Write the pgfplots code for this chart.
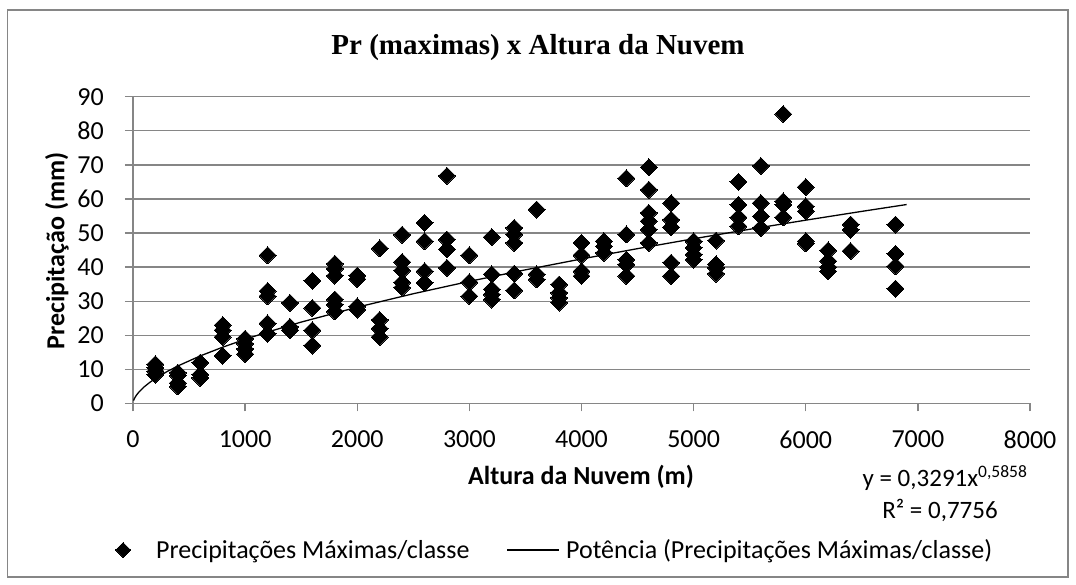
\documentclass[border=0pt]{standalone}
\usepackage{fontspec}
\setmainfont{Carlito}
\newfontfamily\titlefont{Liberation Serif}
\usepackage{pgfplots}
\usepackage{pgfplotstable}
\pgfplotsset{compat=1.18}
\definecolor{axgray}{RGB}{134,134,134}
\pgfplotsset{
  marklegend/.style={legend image code/.code={\path[draw=none, fill=none] (0pt,-1pt) rectangle (40pt,1pt);
    \draw[only marks, mark size=5.3pt, ##1] plot coordinates {(9pt,0pt)};}},
  linelegend/.style={legend image code/.code={\path[draw=none, fill=none] (0pt,-1pt) rectangle (57pt,1pt);
    \draw[##1] (0pt,0pt) -- (52pt,0pt);}}
}

\pgfplotstableread{
x y
200 11.5
200 10.5
200 9.5
200 8.5
400 9.0
400 8.2
400 6.0
400 5.0
600 12.0
600 8.5
600 7.5
800 23.0
800 21.5
800 19.5
800 14.0
1000 19.0
1000 17.5
1000 16.0
1000 14.5
1200 43.5
1200 33.0
1200 31.5
1200 23.5
1200 20.5
1400 29.5
1400 22.5
1400 21.5
1600 36.0
1600 28.0
1600 21.5
1600 17.0
1800 41.0
1800 39.5
1800 37.5
1800 30.5
1800 29.0
1800 27.0
2000 37.5
2000 36.5
2000 28.5
2000 27.5
2200 45.5
2200 24.5
2200 22.0
2200 19.5
2400 49.5
2400 41.5
2400 39.0
2400 35.5
2400 34.0
2600 53.0
2600 47.6
2600 38.8
2600 35.4
2800 66.8
2800 48.1
2800 45.2
2800 39.8
3000 43.5
3000 35.6
3000 31.5
3200 48.8
3200 37.9
3200 33.5
3200 32.0
3200 30.5
3400 51.5
3400 49.6
3400 47.1
3400 38.1
3400 33.2
3600 56.9
3600 37.9
3600 36.4
3800 34.9
3800 32.5
3800 31.0
3800 29.6
4000 47.1
4000 43.5
4000 38.8
4000 37.4
4200 47.6
4200 46.1
4200 44.2
4400 66.1
4400 49.6
4400 42.2
4400 40.8
4400 37.4
4600 69.3
4600 62.7
4600 55.9
4600 53.5
4600 51.0
4600 47.1
4800 58.8
4800 53.9
4800 51.7
4800 41.3
4800 37.4
5000 47.6
5000 45.7
5000 43.7
5000 42.2
5200 47.8
5200 40.8
5200 39.8
5200 38.1
5400 65.0
5400 58.3
5400 54.6
5400 52.0
5600 69.7
5600 58.8
5600 54.9
5600 51.5
5800 84.9
5800 59.3
5800 58.3
5800 54.6
6000 63.5
6000 57.8
6000 56.4
6000 47.6
6000 47.0
6200 44.9
6200 41.8
6200 40.0
6200 38.8
6400 52.5
6400 51.0
6400 44.7
6800 52.5
6800 43.9
6800 40.3
6800 33.7
}\datatable

\pgfplotstableread{
x y
5 0.85
10 1.27
20 1.90
30 2.41
50 3.26
100 4.89
150 6.20
200 7.33
300 9.30
400 11.01
600 13.96
800 16.52
1000 18.83
1200 20.95
1500 23.88
2000 28.25
2500 32.20
3000 35.83
3500 39.21
4000 42.40
4500 45.43
5000 48.33
5500 51.11
6000 53.78
6500 56.36
6900 58.37
}\trendtable

\begin{document}
\begin{tikzpicture}[x=1pt,y=1pt]
\path[use as bounding box] (0,0) rectangle (1076,585);
\draw[line width=1.5pt, axgray] (7.5,8) rectangle (1068,575);
\begin{axis}[
  at={(133pt,181.5pt)}, anchor=south west,
  scale only axis, width=897pt, height=306.8pt,
  xmin=0, xmax=8000, ymin=0, ymax=90,
  xtick={0,1000,...,8000}, ytick={0,10,...,90},
  axis lines=left, axis line style={-, axgray, line width=1.4pt},
  tick style={axgray, line width=1.4pt},
  tick align=outside, major tick length=8pt,
  ymajorgrids, grid style={axgray, line width=1.4pt},
  scaled x ticks=false,
  /pgf/number format/1000 sep={},
  /pgf/number format/assume math mode=true,
  tick label style={font=\fontsize{26}{30}\selectfont, inner sep=0pt},
  yticklabel style={anchor=east, xshift=-21pt},
  xticklabel style={anchor=north, yshift=-19pt},
  legend columns=2,
  legend style={at={(axis description cs:-0.0212,-0.4775)}, anchor=west,
    draw=none, fill=none, inner sep=0pt,
    font=\fontsize{26}{30}\selectfont,
    /tikz/every even column/.append style={column sep=35pt}},
  legend cell align=left,
]
\addplot[only marks, mark=square*, mark size=6pt,
  mark options={rotate=45, fill=black, draw=black, line width=0pt},
  marklegend]
  table[x=x, y=y] {\datatable};
\addlegendentry{Precipitações Máximas/classe}
\addplot[black, line width=1.3pt, no marks, linelegend]
  table[x=x, y=y] {\trendtable};
\addlegendentry{Potência (Precipitações Máximas/classe)}
\end{axis}
\node[font=\titlefont\bfseries\fontsize{29}{34}\selectfont] at (538,537) {Pr (maximas) x Altura da Nuvem};
\node[font=\bfseries\fontsize{26}{30}\selectfont] at (581,108) {Altura da Nuvem (m)};
\node[font=\bfseries\fontsize{26}{30}\selectfont, rotate=90] at (57,334) {Precipitação (mm)};
\node[font=\fontsize{25}{30}\selectfont] at (945,107) {y = 0,3291x\textsuperscript{0,5858}};
\node[font=\fontsize{25}{30}\selectfont] at (940,75) {R² = 0,7756};
\end{tikzpicture}
\end{document}
